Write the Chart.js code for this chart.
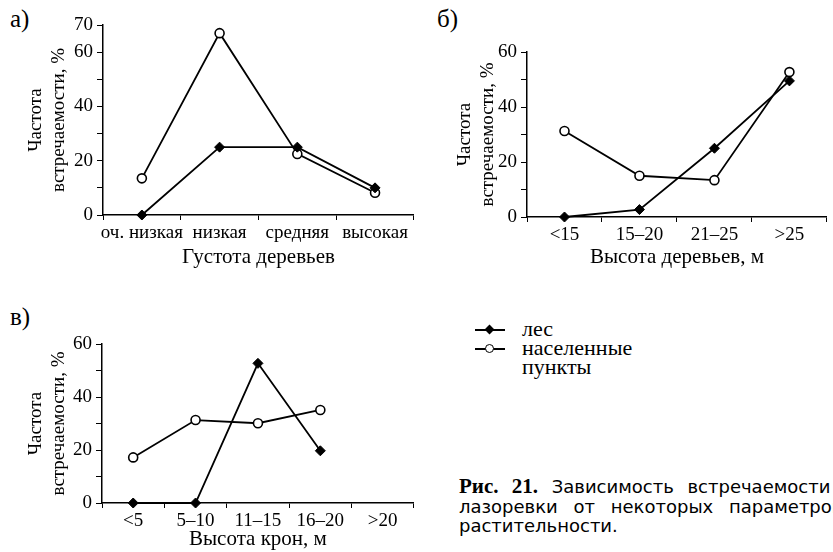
<!DOCTYPE html>
<html>
<head>
<meta charset="utf-8">
<script src="https://cdn.jsdelivr.net/npm/chart.js@4"></script>
<style>
  body { margin: 0; width: 833px; height: 552px; overflow: hidden; background: #fff; position: relative;
         font-family: "Liberation Serif", "Times New Roman", serif; color: #000; }
  canvas { position: absolute; }
  .panel { position: absolute; font-size: 25px; line-height: 25px; }
  .legend { position: absolute; left: 475px; top: 319px; font-size: 22px; line-height: 19px; }
  .legend .row { position: relative; height: 19px; padding-left: 47px; white-space: nowrap; }
  .legend .ln { position: absolute; left: 0; top: 10px; width: 30px; height: 2px; background: #000; }
  .legend .dia { position: absolute; left: 11px; top: 7px; width: 7px; height: 7px; background: #000; transform: rotate(45deg); }
  .legend .cir { position: absolute; left: 10px; top: 6px; width: 7px; height: 7px; border: 1.6px solid #000; border-radius: 50%; background: #fff; }
  .caption { position: absolute; left: 459px; top: 477px; font-family: "DejaVu Sans", sans-serif;
             font-size: 18px; line-height: 19.5px; white-space: nowrap; }
  .caption b { font-family: "Liberation Serif", "Times New Roman", serif; font-size: 21px; }
</style>
</head>
<body>
<div class="panel" style="left:10px;top:6px">а)</div>
<div class="panel" style="left:437px;top:6px">б)</div>
<div class="panel" style="left:10px;top:304px">в)</div>

<canvas id="chartA" width="420" height="270" style="left:0;top:0"></canvas>
<canvas id="chartB" width="413" height="270" style="left:420px;top:0"></canvas>
<canvas id="chartC" width="420" height="262" style="left:0;top:290px"></canvas>

<div class="legend">
  <div class="row"><span class="ln"></span><span class="dia"></span>лес</div>
  <div class="row"><span class="ln"></span><span class="cir"></span>населенные</div>
  <div class="row">пункты</div>
</div>

<div class="caption">
  <div style="word-spacing:8px"><b>Рис. 21.</b> Зависимость встречаемости</div>
  <div style="word-spacing:10px">лазоревки от некоторых параметров</div>
  <div>растительности.</div>
</div>

<script>
// а) густота деревьев
const densityLabels = ['оч. низкая', 'низкая', 'средняя', 'высокая'];
const densityForest = [0, 25, 25, 10];
const densitySettl = [13.5, 67, 22.5, 8.2];

// б) высота деревьев
const heightLabels = ['<15', '15–20', '21–25', '>25'];
const heightForest = [0, 2.7, 25, 49.5];
const heightSettl = [31.3, 15, 13.4, 52.7];

// в) высота крон
const crownLabels = ['<5', '5–10', '11–15', '16–20', '>20'];
const crownForest = [0, 0, 52.7, 19.7, null];
const crownSettl = [17.2, 31.3, 30.1, 35.1, null];

const serif = '"Liberation Serif", "Times New Roman", serif';

function makeChart(id, labels, forest, settl, yMax, xTitle, opt) {
    const ctx = document.getElementById(id).getContext('2d');
    return new Chart(ctx, {
        type: 'line',
        data: {
            labels: labels,
            datasets: [{
                label: 'лес',
                data: forest,
                borderColor: '#000',
                borderWidth: 1.8,
                pointStyle: 'rectRot',
                pointRadius: 5,
                pointBackgroundColor: '#000',
                pointBorderColor: '#000',
                pointBorderWidth: 1,
                clip: false
            }, {
                label: 'населенные пункты',
                data: settl,
                borderColor: '#000',
                borderWidth: 1.8,
                pointStyle: 'circle',
                pointRadius: 4.5,
                pointBackgroundColor: '#fff',
                pointBorderColor: '#000',
                pointBorderWidth: 1.6,
                clip: false
            }]
        },
        options: {
            responsive: false,
            animation: false,
            layout: { padding: { left: 0, right: opt.right, top: opt.top, bottom: 0 } },
            plugins: { legend: { display: false }, tooltip: { enabled: false } },
            scales: {
                x: {
                    offset: true,
                    grid: { offset: true, drawOnChartArea: false, color: '#000', tickLength: 5, lineWidth: 1 },
                    border: { color: '#000', width: 1.5 },
                    ticks: { color: '#000', font: { family: serif, size: opt.xf }, padding: 2, maxRotation: 0, autoSkip: false },
                    title: { display: true, text: xTitle, color: '#000', font: { family: serif, size: 21 }, padding: { top: 0, bottom: 0 } },
                    afterFit: s => { s.height = opt.xh; }
                },
                y: {
                    min: 0,
                    max: yMax,
                    grid: { drawOnChartArea: false, color: '#000', tickLength: 6, lineWidth: 1 },
                    border: { color: '#000', width: 1.5 },
                    ticks: {
                        stepSize: 10,
                        color: '#000',
                        padding: 4,
                        font: { family: serif, size: 19 },
                        callback: v => (v % 20 === 0 || v === yMax) ? v : ''
                    },
                    title: {
                        display: true,
                        text: ['Частота', 'встречаемости, %'],
                        color: '#000',
                        font: { family: serif, size: 19, lineHeight: 1.23 },
                        padding: { top: opt.tp, bottom: 0 }
                    },
                    afterFit: s => { s.width = opt.yw; }
                }
            }
        }
    });
}

makeChart('chartA', densityLabels, densityForest, densitySettl, 70, 'Густота деревьев',
    { top: 25, right: 2, xh: 55, yw: 103, tp: 24, xf: 19 });
makeChart('chartB', heightLabels, heightForest, heightSettl, 60, 'Высота деревьев, м',
    { top: 52, right: 0, xh: 53, yw: 107, tp: 33, xf: 19 });
makeChart('chartC', crownLabels, crownForest, crownSettl, 60, 'Высота крон, м',
    { top: 54, right: 3, xh: 49, yw: 102, tp: 24, xf: 19 });
</script>
</body>
</html>
